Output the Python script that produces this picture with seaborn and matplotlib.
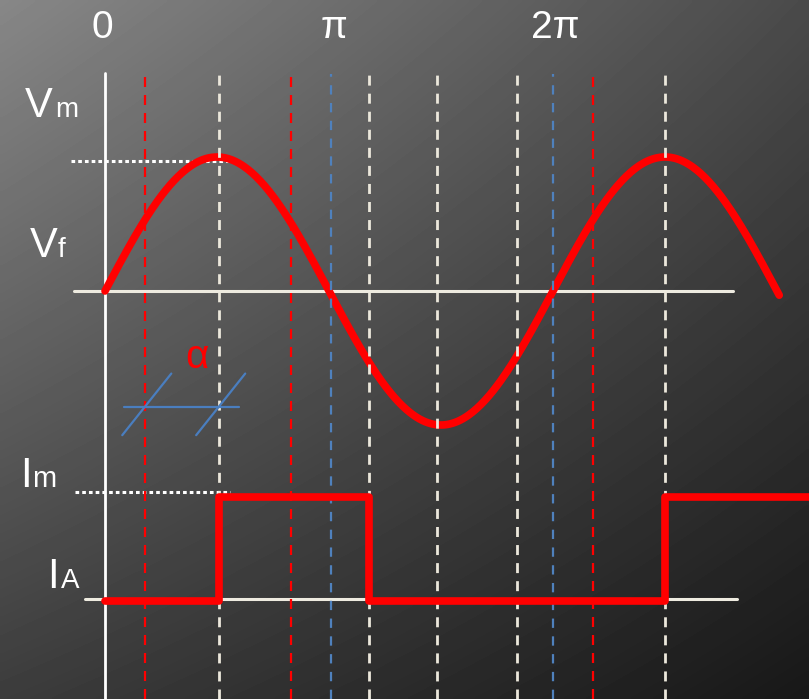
import numpy as np
import matplotlib
matplotlib.use("Agg")
from matplotlib import pyplot as plt
import seaborn as sns

# Angles are given in units of pi (0 = origin, 1 = pi, 2 = 2pi)
tick_labels = ["0", "π", "2π"]
tick_pos = [-0.01, 1.02, 2.01]

red_lines = [0.18, 0.83, 2.18]          # firing points (alpha)
blue_lines = [1.01, 2.0]                # zero crossings
white_lines = [0.51, 1.18, 1.48, 1.84, 2.50]

# Voltage: sine of amplitude Vm
v_m = 1.0
theta_end = 3.01

# Current: square wave levels and switching angles
i_low = -2.31
i_high = -1.54
i_steps_x = [0.0, 0.51, 1.18, 2.50, 3.30]
i_steps_y = [i_low, i_high, i_low, i_high, i_high]

# Reference levels
vf_level = 0.0
ia_level = -2.30
im_level = -1.50

sns.set_theme(style="white")
plt.rcParams["font.family"] = ["Liberation Sans", "DejaVu Sans"]

W, H = 809, 699
fig = plt.figure(figsize=(W / 100, H / 100), dpi=100)
ax = fig.add_axes([0, 0, 1, 1])
xlim = (-105 / 224, 704 / 224)
ylim = (-408 / 134, 291 / 134)
ax.set_xlim(*xlim)
ax.set_ylim(*ylim)
ax.axis("off")

# gradient background (bilinear between corner greys)
tl, tr, bl, br = 135, 74, 60, 24
u = np.linspace(0, 1, 200)
vv = np.linspace(0, 1, 200)[:, None]
grad = (tl * (1 - u) * (1 - vv) + tr * u * (1 - vv) + bl * (1 - u) * vv + br * u * vv) / 255
ax.imshow(grad, extent=[xlim[0], xlim[1], ylim[0], ylim[1]], aspect="auto",
          cmap="gray", vmin=0, vmax=1, zorder=0, interpolation="bilinear")

axis_col = "#eeebe0"
top_y = (291 - 71) / 134

# axes lines
ax.plot([0, 0], [(291 - 73) / 134, ylim[0]], color="white", lw=2, zorder=1)
ax.plot([-0.138, 2.804], [vf_level, vf_level], color=axis_col, lw=2.2, zorder=1)
ax.plot([-0.089, 2.821], [ia_level, ia_level], color=axis_col, lw=2.2, zorder=1)
ax.plot([-0.152, 0.55], [0.97, 0.97], color="white", lw=2.2, ls=(0, (1.2, 1.0)), zorder=1)
ax.plot([-0.134, 0.56], [im_level, im_level], color="white", lw=2.2, ls=(0, (1.2, 1.0)), zorder=1)

# voltage sine
theta = np.linspace(0, theta_end, 500)
sns.lineplot(x=theta, y=v_m * np.sin(np.pi * theta), color="#ff0000", lw=5.5,
             ax=ax, zorder=2, estimator=None)

# dashed verticals
ax.vlines(white_lines, ylim[0], top_y, colors="#ece8dc", lw=2, linestyles=(0, (3.6, 2.9)), zorder=3)
ax.vlines(red_lines, ylim[0], top_y - 0.01, colors="#ff0000", lw=1.6, linestyles=(0, (4.5, 3.6)), zorder=3)
ax.vlines(blue_lines, ylim[0], top_y - 0.02, colors="#4f81bd", lw=1.6, linestyles=(0, (4.2, 3.8)), zorder=3)

# current square wave
sns.lineplot(x=i_steps_x, y=i_steps_y, color="#ff0000", lw=5.5, drawstyle="steps-post",
             ax=ax, zorder=4, estimator=None)

# alpha marker (blue slashes at the firing angle and the peak)
a0, a1 = red_lines[0], white_lines[0]
ya = -0.866
ax.plot([a0 - 0.095, a1 + 0.09], [ya, ya], color="#4a7ebf", lw=1.6, zorder=5)
for a in (a0, a1):
    ax.plot([a - 0.103, a + 0.116], [ya - 0.21, ya + 0.25], color="#4a7ebf", lw=1.6, zorder=5)


def px_text(x, y, s, size, color="white", ha="left"):
    fig.text(x / W, 1 - y / H, s, fontsize=size, color=color, ha=ha, va="baseline")


for lab, p in zip(tick_labels, tick_pos):
    px_text(105 + 224 * p, 38, lab, 28, ha="center")

px_text(25, 117, "V", 30)
px_text(55, 117, "m", 20)
px_text(30, 257, "V", 30)
px_text(58, 257, "f", 20)
px_text(20, 487, "I", 30)
px_text(32, 487, "m", 21)
px_text(47, 588, "I", 30)
px_text(61, 588, "A", 20)
px_text(197, 368, "α", 29, color="#ff0000", ha="center")

fig.savefig("out.png", dpi=100)
